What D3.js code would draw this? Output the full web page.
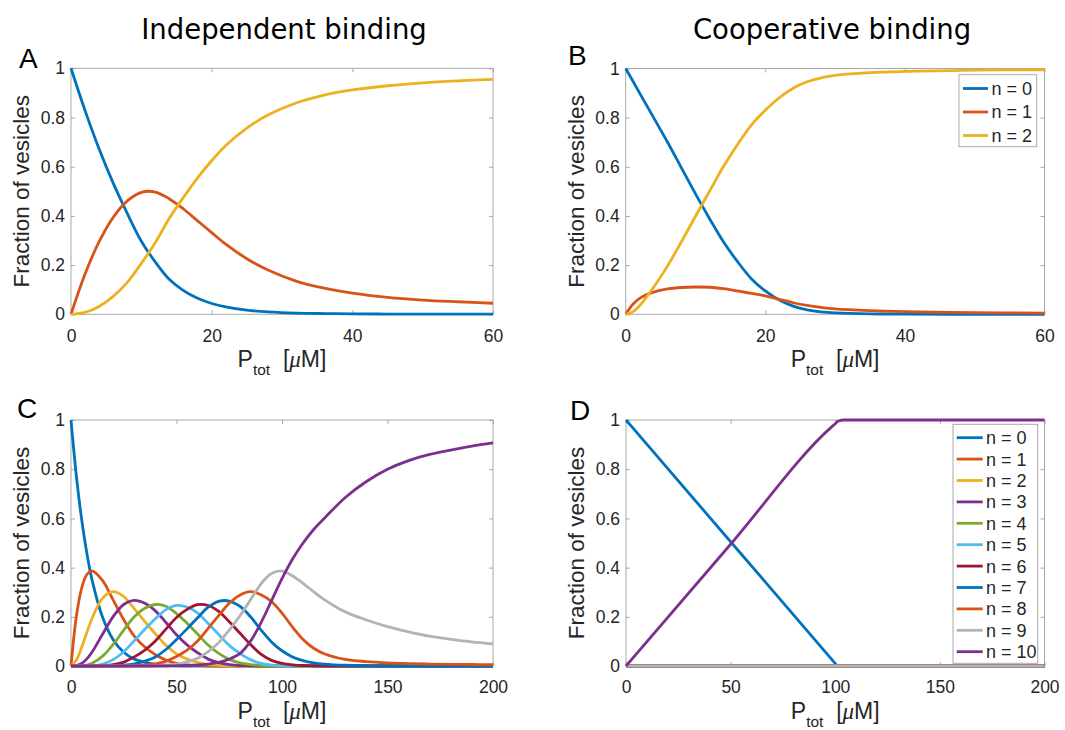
<!DOCTYPE html>
<html>
<head>
<meta charset="utf-8">
<script src="https://cdn.jsdelivr.net/npm/d3@7"></script>
<style>
body { margin: 0; background: #fff; }
text { font-family: "Liberation Sans", Arial, sans-serif; }
</style>
</head>
<body>
<svg id="fig" width="1065" height="730"></svg>
<script>
// ---- data ----
// A: independent binding, 2 sites
var indepX  = [0, 2, 4, 6, 8, 10, 12, 14, 16, 18, 20, 22, 25, 28, 32, 36, 40, 45, 50, 55, 60];
var indepN0 = [1, .828, .672, .533, .410, .297, .212, .141, .096, .065, .044, .030, .017, .010, .005, .003, .002, .001, .001, .001, .001];
var indepN1 = [0, .164, .295, .394, .461, .496, .497, .469, .428, .380, .332, .285, .226, .180, .135, .106, .086, .069, .058, .051, .045];
var indepN2 = [0, .008, .032, .073, .130, .207, .292, .391, .476, .555, .624, .686, .757, .810, .859, .891, .912, .929, .941, .949, .955];

// B: cooperative binding, 2 sites
var coopX  = [0, 1, 2, 4, 6, 8, 10, 12, 14, 16, 18, 20, 22, 24, 26, 28, 30, 35, 40, 50, 60];
var coopN0 = [1, .95, .90, .80, .70, .595, .49, .39, .295, .215, .145, .095, .058, .033, .018, .010, .006, .002, .001, 0, 0];
var coopN1 = [0, .04, .065, .09, .103, .109, .111, .11, .104, .095, .085, .075, .061, .047, .036, .028, .022, .015, .011, .007, .005];
var coopN2 = [0, .01, .035, .11, .197, .296, .399, .50, .601, .69, .77, .83, .881, .92, .946, .962, .972, .983, .988, .993, .995];

// C: independent binding, 10 sites
var manyX = [0, 2.5, 5, 7.5, 10, 15, 20, 25, 30, 35, 40, 45, 50, 55, 60, 65, 70, 75, 80, 85, 90, 95, 100, 105, 110, 115, 120, 130, 140, 150, 160, 170, 180, 190, 200];
var manyN0  = [1, .776, .599, .459, .349, .197, .107, .056, .028, .015, .007, .003, .001, 0, 0, 0, 0, 0, 0, 0, 0, 0, 0, 0, 0, 0, 0, 0, 0, 0, 0, 0, 0, 0, 0];
var manyN1  = [0, .199, .315, .372, .387, .347, .268, .188, .121, .077, .046, .024, .011, .005, .002, .001, 0, 0, 0, 0, 0, 0, 0, 0, 0, 0, 0, 0, 0, 0, 0, 0, 0, 0, 0];
var manyN2  = [0, .023, .075, .136, .194, .276, .302, .282, .233, .181, .131, .084, .049, .028, .015, .006, .003, .001, 0, 0, 0, 0, 0, 0, 0, 0, 0, 0, 0, 0, 0, 0, 0, 0, 0];
var manyN3  = [0, .002, .010, .029, .057, .130, .201, .250, .267, .255, .224, .177, .127, .086, .054, .028, .014, .006, .002, .001, 0, 0, 0, 0, 0, 0, 0, 0, 0, 0, 0, 0, 0, 0, 0];
var manyN4  = [0, 0, .001, .004, .011, .040, .088, .146, .200, .235, .250, .243, .213, .174, .130, .085, .051, .027, .013, .006, .002, 0, 0, 0, 0, 0, 0, 0, 0, 0, 0, 0, 0, 0, 0];
var manyN5  = [0, 0, 0, 0, .001, .008, .026, .058, .103, .149, .192, .229, .246, .240, .216, .173, .128, .084, .051, .026, .011, .004, .001, 0, 0, 0, 0, 0, 0, 0, 0, 0, 0, 0, 0];
var manyN6  = [0, 0, 0, 0, 0, .001, .006, .016, .037, .065, .102, .150, .197, .230, .249, .246, .222, .180, .134, .088, .048, .023, .011, .005, .002, .001, 0, 0, 0, 0, 0, 0, 0, 0, 0];
var manyN7  = [0, 0, 0, 0, 0, 0, .001, .003, .009, .020, .037, .067, .108, .151, .196, .239, .263, .264, .243, .201, .147, .098, .062, .037, .022, .013, .008, .003, .001, 0, 0, 0, 0, 0, 0];
var manyN8  = [0, 0, 0, 0, 0, 0, 0, 0, .001, .004, .009, .020, .039, .065, .102, .153, .205, .255, .288, .302, .290, .262, .215, .158, .108, .072, .050, .027, .018, .013, .010, .008, .007, .006, .005];
var manyN9  = [0, 0, 0, 0, 0, 0, 0, 0, 0, 0, .001, .003, .008, .017, .031, .058, .095, .146, .203, .268, .333, .376, .386, .366, .336, .302, .270, .220, .187, .160, .139, .121, .108, .098, .090];
var manyN10 = [0, 0, 0, 0, 0, 0, 0, 0, 0, 0, 0, 0, .001, .002, .004, .008, .015, .028, .050, .100, .175, .265, .355, .435, .500, .555, .600, .685, .750, .800, .835, .860, .878, .894, .907];

// D: cooperative binding, 10 sites
var coopManyX   = [0, 50, 98, 100, 101, 102, 104, 150, 200];
var coopManyN0  = [1, .505, .03, .01, 0, 0, 0, 0, 0];
var coopManyMid = [0, 0, 0, 0, 0, 0, 0, 0, 0];   // n = 1..9 stay at zero
var coopManyN10 = [0, .495, .97, .985, .993, .997, 1, 1, 1];

var yTicks = [0, 0.2, 0.4, 0.6, 0.8, 1];
var xTicksShort = [0, 20, 40, 60];
var xTicksLong = [0, 50, 100, 150, 200];
var labels2 = ["n = 0", "n = 1", "n = 2"];
var labels10 = d3.range(11).map(function(i) { return "n = " + i; });

var colors = ["#0072BD", "#D95319", "#EDB120", "#7E2F8E", "#77AC30", "#4DBEEE",
              "#A2142F", "#0072BD", "#D95319", "#B3B3B3", "#7E2F8E"];
var boxColor = "#a8a8a8";
var tickColor = "#262626";

var svg = d3.select("#fig");

function panel(o) {
    var x = d3.scaleLinear().domain(o.xDomain).range([o.l, o.r]);
    var y = d3.scaleLinear().domain([0, 1]).range([o.b, o.t]);
    var g = svg.append("g");

    g.append("rect")
        .attr("x", o.l).attr("y", o.t)
        .attr("width", o.r - o.l).attr("height", o.b - o.t)
        .attr("fill", "none").attr("stroke", boxColor).attr("stroke-width", 1);

    var fmt = function(d) { return String(d); };
    var ax = [
        g.append("g").attr("transform", "translate(0," + o.b + ")")
            .call(d3.axisBottom(x).tickValues(o.xTicks).tickSize(-4).tickSizeOuter(0).tickPadding(15).tickFormat(fmt)),
        g.append("g").attr("transform", "translate(0," + o.t + ")")
            .call(d3.axisTop(x).tickValues(o.xTicks).tickSize(-4).tickSizeOuter(0).tickFormat("")),
        g.append("g").attr("transform", "translate(" + o.l + ",0)")
            .call(d3.axisLeft(y).tickValues(yTicks).tickSize(-4).tickSizeOuter(0).tickPadding(6).tickFormat(fmt)),
        g.append("g").attr("transform", "translate(" + o.r + ",0)")
            .call(d3.axisRight(y).tickValues(yTicks).tickSize(-4).tickSizeOuter(0).tickFormat(""))
    ];
    ax.forEach(function(a) {
        a.select(".domain").remove();
        a.selectAll(".tick line").attr("stroke", boxColor);
        a.selectAll(".tick text")
            .attr("fill", tickColor)
            .style("font-size", "17.5px")
            .style("font-family", "'Liberation Sans', Arial, sans-serif");
    });

    var line = d3.line()
        .x(function(d) { return x(d[0]); })
        .y(function(d) { return y(d[1]); })
        .curve(o.curve);

    o.series.forEach(function(s, i) {
        var pts = s.map(function(v, j) { return [o.xs[j], v]; });
        g.append("path")
            .attr("d", line(pts))
            .attr("fill", "none")
            .attr("stroke", colors[i])
            .attr("stroke-width", 2.8)
            .attr("stroke-linejoin", "round");
    });

    // y label
    g.append("text")
        .attr("transform", "translate(" + (o.l - 42) + "," + ((o.t + o.b) / 2) + ") rotate(-90)")
        .attr("text-anchor", "middle")
        .attr("fill", tickColor)
        .style("font-size", "22.5px")
        .text("Fraction of vesicles");

    // x label  P_tot [muM]
    var xl = g.append("text")
        .attr("x", (o.l + o.r) / 2).attr("y", o.b + 53)
        .attr("text-anchor", "middle")
        .attr("fill", tickColor)
        .style("font-size", "23px");
    xl.append("tspan").text("P");
    xl.append("tspan").attr("dy", 8).style("font-size", "15.5px").text("tot");
    xl.append("tspan").attr("dy", -8).text("\u00a0\u00a0[");
    xl.append("tspan").style("font-family", "'Liberation Serif', serif").style("font-style", "italic").text("\u03bc");
    xl.append("tspan").text("M]");

    // panel letter
    g.append("text")
        .attr("x", o.letter[0]).attr("y", o.letter[1])
        .attr("fill", "#000")
        .style("font-size", "28px")
        .text(o.name);

    if (o.legend) {
        var L = o.legend;
        var lg = g.append("g");
        lg.append("rect")
            .attr("x", L.x).attr("y", L.y).attr("width", L.w).attr("height", L.h)
            .attr("fill", "#fff").attr("stroke", boxColor).attr("stroke-width", 1);
        L.labels.forEach(function(t, i) {
            var cy = L.row0 + i * L.step;
            lg.append("line")
                .attr("x1", L.x0).attr("x2", L.x1).attr("y1", cy).attr("y2", cy)
                .attr("stroke", colors[i]).attr("stroke-width", 2.8);
            lg.append("text")
                .attr("x", L.tx).attr("y", cy).attr("dy", "0.36em")
                .attr("fill", tickColor)
                .style("font-size", "18px")
                .text(t);
        });
    }
}

var smooth = d3.curveCatmullRom.alpha(0.5);

panel({ name: "A", letter: [19, 68], l: 71, r: 493, t: 68.3, b: 314.3,
        xDomain: [0, 60], xTicks: xTicksShort, xs: indepX, curve: smooth,
        series: [indepN0, indepN1, indepN2] });

panel({ name: "B", letter: [568, 65], l: 625.7, r: 1044.5, t: 68.5, b: 314.3,
        xDomain: [0, 60], xTicks: xTicksShort, xs: coopX, curve: smooth,
        series: [coopN0, coopN1, coopN2],
        legend: { x: 959, y: 74.7, w: 77.7, h: 72, row0: 88.5, step: 23.5,
                  x0: 963, x1: 988, tx: 991.5, labels: labels2 } });

panel({ name: "C", letter: [17, 418], l: 71, r: 493, t: 420, b: 666,
        xDomain: [0, 200], xTicks: xTicksLong, xs: manyX, curve: smooth,
        series: [manyN0, manyN1, manyN2, manyN3, manyN4, manyN5, manyN6, manyN7, manyN8, manyN9, manyN10] });

panel({ name: "D", letter: [570, 420], l: 626, r: 1044.5, t: 420, b: 666,
        xDomain: [0, 200], xTicks: xTicksLong, xs: coopManyX, curve: d3.curveMonotoneX,
        series: [coopManyN0, coopManyMid, coopManyMid, coopManyMid, coopManyMid, coopManyMid,
                 coopManyMid, coopManyMid, coopManyMid, coopManyMid, coopManyN10],
        legend: { x: 953, y: 424.3, w: 84.7, h: 239, row0: 437.7, step: 21.4,
                  x0: 956.7, x1: 982.7, tx: 986, labels: labels10 } });

// column titles
[["Independent binding", 284], ["Cooperative binding", 832]].forEach(function(t) {
    svg.append("text")
        .attr("x", t[1]).attr("y", 39)
        .attr("text-anchor", "middle")
        .attr("fill", "#000")
        .style("font-family", "'DejaVu Sans', sans-serif")
        .style("font-size", "27.5px")
        .text(t[0]);
});
</script>
</body>
</html>
